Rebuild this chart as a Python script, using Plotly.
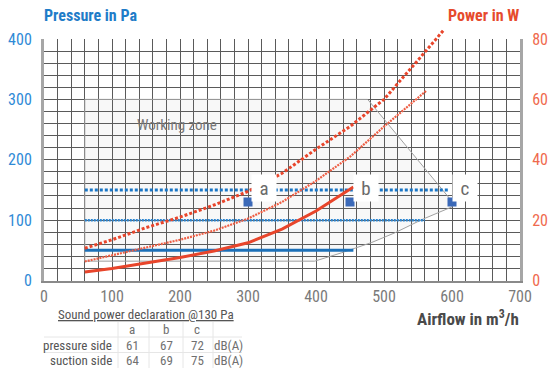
import plotly.graph_objects as go

# ---------------- data ----------------
airflow_ticks = [0, 100, 200, 300, 400, 500, 600, 700]
pressure_ticks = [0, 100, 200, 300, 400]
power_ticks = [0, 20, 40, 60, 80]

# pressure (Pa) horizontal settings
p50_x = [60, 455]
p50_y = [50, 50]
p100_x = [60, 560]
p100_y = [100, 100]
p150_x = [60, 595]
p150_y = [150, 150]

# power curves (W)
pw_solid_x = [60, 100, 150, 200, 250, 300, 350, 400, 455]
pw_solid_y = [2.8, 4.0, 5.8, 7.6, 9.8, 12.5, 17.0, 23.0, 31.0]
pw_mid_x = [60, 100, 150, 200, 250, 300, 350, 400, 450, 500, 563]
pw_mid_y = [6.3, 8.3, 11.0, 13.5, 16.5, 20.5, 26.0, 33.0, 41.0, 51.0, 63.0]
pw_top_x = [60, 100, 150, 200, 250, 300, 350, 400, 450, 500, 550, 588]
pw_top_y = [10.7, 13.5, 17.5, 21.0, 25.0, 29.5, 35.5, 43.5, 51.0, 60.0, 73.0, 83.0]

# working zone outline
zone_x = [60, 476, 603, 600, 556, 516, 482, 438, 398, 60, 60]
zone_y = [300, 300, 127, 122, 101, 79, 63, 46, 32, 32, 300]

# declaration points
pt_x = [300, 450, 600]
pt_y = [130, 130, 130]
pt_labels = ["a", "b", "c"]
lab_x = [324, 473, 619]
lab_y = [153, 153, 153]

# table
tbl_title = "Sound power declaration @130 Pa"
tbl_cols = ["a", "b", "c"]
tbl_rows = ["pressure side", "suction side"]
tbl_vals = [[61, 67, 72], [64, 69, 75]]
tbl_unit = "dB(A)"

# ---------------- styling ----------------
FONT = "Liberation Sans Narrow, Roboto Condensed, DejaVu Sans Condensed, Arial Narrow, sans-serif"
W, H = 550, 370
ML, MR, MT, MB = 44, 30, 20, 20
PW, PH = W - ML - MR, H - MT - MB


def fx(px):
    return (px - ML) / PW


def fy(py):
    return (H - MB - py) / PH


y_dom = [fy(280.5), fy(39)]
y3_top = 80 * (1 - y_dom[0]) / (y_dom[1] - y_dom[0])

RED = "#e8452b"
BLUE = "#1c70b8"
GRID = "#5a5a5a"

fig = go.Figure()

# working zone
fig.add_trace(go.Scatter(x=zone_x, y=zone_y, mode="lines", fill="toself",
                         fillcolor="rgba(120,120,120,0.055)",
                         line=dict(color="#a0a0a0", width=1), hoverinfo="skip",
                         showlegend=False))

# pressure lines
fig.add_trace(go.Scatter(x=p100_x, y=p100_y, mode="lines",
                         line=dict(color="#2a84d0", width=2.5, dash="2px,1px"), showlegend=False))
fig.add_trace(go.Scatter(x=p150_x, y=p150_y, mode="lines",
                         line=dict(color="#1a76c6", width=3, dash="3px,2px"), showlegend=False))
fig.add_trace(go.Scatter(x=p50_x, y=p50_y, mode="lines",
                         line=dict(color=BLUE, width=3), showlegend=False))

# points
fig.add_trace(go.Scatter(x=pt_x, y=pt_y, mode="markers",
                         marker=dict(symbol="square", size=9, color="#3b69b8"),
                         showlegend=False))

# power curves on overlay axes
fig.add_trace(go.Scatter(x=pw_mid_x, y=pw_mid_y, mode="lines", xaxis="x2", yaxis="y3",
                         line=dict(color="#ee5e44", width=2.2, dash="2px,1px"), showlegend=False))
fig.add_trace(go.Scatter(x=pw_top_x, y=pw_top_y, mode="lines", xaxis="x2", yaxis="y3",
                         line=dict(color=RED, width=3, dash="3px,2px"), showlegend=False))
fig.add_trace(go.Scatter(x=pw_solid_x, y=pw_solid_y, mode="lines", xaxis="x2", yaxis="y3",
                         line=dict(color=RED, width=3), showlegend=False))

# dummy trace to activate right axis
fig.add_trace(go.Scatter(x=[0], y=[0], yaxis="y2", mode="markers",
                         marker=dict(opacity=0), hoverinfo="skip", showlegend=False))

annotations = []
# point labels
for lx, ly, t in zip(lab_x, lab_y, pt_labels):
    annotations.append(dict(x=lx, y=ly, xref="x", yref="y", text=t, showarrow=False,
                            xanchor="center", yanchor="middle",
                            font=dict(family=FONT, size=19, color="#6a6a6a"),
                            bgcolor="white", borderpad=2, width=20, height=22))

annotations.append(dict(x=196, y=257, xref="x", yref="y", text="Working zone", showarrow=False,
                        xanchor="center", yanchor="middle",
                        font=dict(family=FONT, size=15, color="#777777")))

# titles
annotations.append(dict(x=fx(42), y=fy(15), xref="paper", yref="paper", text="<b>Pressure in Pa</b>",
                        showarrow=False, xanchor="left", yanchor="middle",
                        font=dict(family=FONT, size=16, color="#1f7cc8")))
annotations.append(dict(x=fx(521), y=fy(15), xref="paper", yref="paper", text="<b>Power in W</b>",
                        showarrow=False, xanchor="right", yanchor="middle",
                        font=dict(family=FONT, size=16, color="#e64a2c")))
annotations.append(dict(x=fx(521), y=fy(318), xref="paper", yref="paper",
                        text="<b>Airflow in m<sup>3</sup>/h</b>",
                        showarrow=False, xanchor="right", yanchor="middle",
                        font=dict(family=FONT, size=17, color="#4a4a4a")))

# table
TFONT = dict(family=FONT, size=13, color="#707070")
annotations.append(dict(x=fx(146), y=fy(314), xref="paper", yref="paper",
                        text="<u>" + tbl_title + "</u>", showarrow=False,
                        xanchor="center", yanchor="middle",
                        font=dict(family=FONT, size=13, color="#555555")))
col_px = [132, 166, 197]
row_py = [345, 360]
for cx, c in zip(col_px, tbl_cols):
    annotations.append(dict(x=fx(cx), y=fy(329), xref="paper", yref="paper", text=c,
                            xanchor="center", yanchor="middle",
                            showarrow=False, font=TFONT))
for ry, rname, vals in zip(row_py, tbl_rows, tbl_vals):
    annotations.append(dict(x=fx(114), y=fy(ry), xref="paper", yref="paper", text=rname,
                            showarrow=False, xanchor="right", yanchor="middle",
                            font=dict(family=FONT, size=13, color="#555555")))
    for cx, v in zip(col_px, vals):
        annotations.append(dict(x=fx(cx), y=fy(ry), xref="paper", yref="paper", text=str(v),
                                xanchor="center", yanchor="middle",
                                showarrow=False, font=TFONT))
    annotations.append(dict(x=fx(228), y=fy(ry), xref="paper", yref="paper", text=tbl_unit,
                            xanchor="center", yanchor="middle",
                            showarrow=False, font=TFONT))

shapes = []
TL = dict(color="#e6e6e6", width=1)
for yy in [337, 352.5]:
    shapes.append(dict(type="line", xref="paper", yref="paper", x0=fx(44), x1=fx(242),
                       y0=fy(yy), y1=fy(yy), line=TL))
for xx in [118, 149, 183, 213]:
    shapes.append(dict(type="line", xref="paper", yref="paper", x0=fx(xx), x1=fx(xx),
                       y0=fy(322), y1=fy(368), line=TL))

fig.update_layout(
    template="none",
    width=W, height=H,
    margin=dict(l=ML, r=MR, t=MT, b=MB, pad=0, autoexpand=False),
    paper_bgcolor="white", plot_bgcolor="rgba(0,0,0,0)",
    showlegend=False,
    font=dict(family=FONT),
    xaxis=dict(range=[0, 700], tickvals=airflow_ticks, showgrid=True, gridcolor=GRID, gridwidth=1,
               minor=dict(dtick=20, showgrid=True, gridcolor=GRID, gridwidth=1),
               showline=True, linecolor="#8a8a8a", linewidth=2, zeroline=False,
               ticks="", tickfont=dict(family=FONT, size=16, color="#7a7a7a"),
               anchor="y", automargin=False),
    xaxis2=dict(range=[0, 700], overlaying="x", visible=False, showgrid=False, anchor="y3",
                automargin=False),
    yaxis=dict(range=[0, 400], domain=y_dom, tickvals=pressure_ticks, showgrid=True, gridcolor=GRID,
               gridwidth=1, minor=dict(dtick=20, showgrid=True, gridcolor=GRID, gridwidth=1),
               showline=True, linecolor="#a6a6a6", linewidth=3, zeroline=False, ticks="",
               ticklabelstandoff=6, automargin=False,
               tickfont=dict(family=FONT, size=16, color="#2f8ad6")),
    yaxis2=dict(range=[0, 80], overlaying="y", side="right", tickvals=power_ticks, showgrid=False,
                showline=True, linecolor="#a6a6a6", linewidth=3, zeroline=False, ticks="",
                ticklabelstandoff=6, automargin=False,
                tickfont=dict(family=FONT, size=16, color="#ef6a4e")),
    yaxis3=dict(range=[0, y3_top], domain=[y_dom[0], 1.0], visible=False, showgrid=False,
                anchor="x2", automargin=False),
    annotations=annotations,
    shapes=shapes,
)

fig.write_html("out.html")
